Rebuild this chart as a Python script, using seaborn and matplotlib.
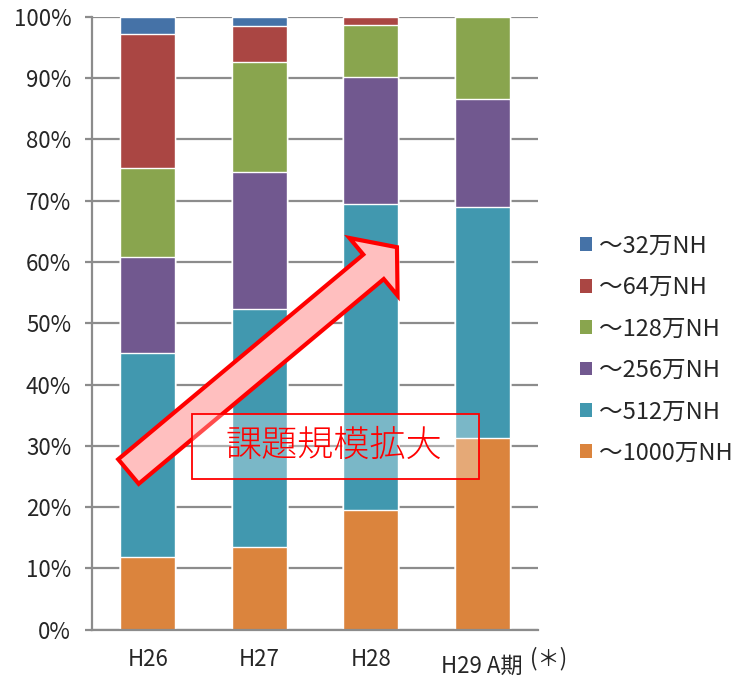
import matplotlib
matplotlib.use("Agg")
import matplotlib.pyplot as plt
from matplotlib.patches import Patch, Rectangle, FancyArrowPatch
from matplotlib.transforms import blended_transform_factory, ScaledTranslation
import numpy as np
import pandas as pd
import seaborn as sns

# Share of tasks per size class (%), per fiscal period
periods = ["H26", "H27", "H28", "H29 A期"]
size_classes = ["～1000万NH", "～512万NH", "～256万NH", "～128万NH", "～64万NH", "～32万NH"]
share_1000 = [11.8, 13.5, 19.6, 31.2]
share_512 = [33.3, 38.8, 49.9, 37.7]
share_256 = [15.7, 22.3, 20.7, 17.7]
share_128 = [14.6, 18.0, 8.4, 13.4]
share_64 = [21.7, 5.9, 1.4, 0.0]
share_32 = [2.9, 1.5, 0.0, 0.0]
class_colors = ["#DB843D", "#4198AF", "#71588F", "#89A54E", "#AA4643", "#4572A7"]
y_ticks = list(range(0, 101, 10))

sns.set_style("white")
plt.rcParams["font.family"] = ["Noto Sans CJK JP", "DejaVu Sans"]

fig = plt.figure(figsize=(7.51, 6.79), dpi=100)
ax = fig.add_axes([0.1225, 0.0726, 0.5939, 0.9028])

series = [share_1000, share_512, share_256, share_128, share_64, share_32]
cumulative = np.cumsum(np.array(series), axis=0)

# Stacked bars: draw cumulative totals from the top segment down
for level in range(len(series) - 1, -1, -1):
    df = pd.DataFrame({"period": periods, "value": cumulative[level]})
    sns.barplot(data=df, x="period", y="value", order=periods, color=class_colors[level],
                saturation=1, width=0.49, errorbar=None, ax=ax, zorder=2)

grid_c = "#8C8C8C"
ax.set_xlim(-0.5, 3.5)
ax.set_ylim(0, 100)
ax.set_yticks(y_ticks)
ax.set_yticklabels([f"{t}%" for t in y_ticks], fontsize=16)
ax.yaxis.grid(True, color=grid_c, linewidth=1.6, zorder=0)
ax.set_axisbelow(True)
ax.set_xlabel("")
ax.set_ylabel("")
for side in ["top", "right"]:
    ax.spines[side].set_visible(False)
for side in ["left", "bottom"]:
    ax.spines[side].set_color(grid_c)
    ax.spines[side].set_linewidth(1.6)

ax.set_xticks(range(len(periods)))
ax.set_xticklabels(periods, fontsize=16)
ax.set_xticks(np.arange(-0.5, 3.6, 1.0), minor=True)
ax.tick_params(axis="x", which="major", length=0, pad=13)
ax.tick_params(axis="x", which="minor", length=4.5, width=1.6, color=grid_c, direction="out")
ax.tick_params(axis="y", length=5, width=1.6, color=grid_c, direction="out", pad=10, left=True)

# The last period label sits a little lower
last = ax.get_xticklabels()[-1]
last.set_transform(last.get_transform() + ScaledTranslation(0, -0.07, fig.dpi_scale_trans))

# Footnote marker next to the last period label
trans = blended_transform_factory(ax.transData, ax.transAxes)
ax.text(3.43, -0.047, "(＊)", transform=trans, fontsize=16, ha="left", va="center",
        clip_on=False)

# Trend arrow
arrow = FancyArrowPatch((-0.173, 25.8), (2.235, 62.4),
                        arrowstyle="simple,head_length=22,head_width=54,tail_width=23",
                        mutation_scale=1, shrinkA=0, shrinkB=0,
                        facecolor="#FFBFBF", edgecolor="#FF0000", linewidth=3,
                        joinstyle="miter", zorder=5)
ax.add_patch(arrow)

# Caption box
ax.add_patch(Rectangle((0.224, 0.246), 0.644, 0.106, transform=ax.transAxes,
                       facecolor=(1, 1, 1, 0.3), edgecolor="#FF0000", linewidth=1.3,
                       zorder=6))
ax.text(0.543, 0.300, "課題規模拡大", transform=ax.transAxes, fontsize=26,
        color="#FF0000", ha="center", va="center", zorder=7, fontweight="light")

# Legend, largest-count class first
handles = [Patch(facecolor=class_colors[i], edgecolor="none", label=size_classes[i])
           for i in range(len(size_classes) - 1, -1, -1)]
fig.legend(handles=handles, loc="center left", bbox_to_anchor=(0.772, 0.485),
           frameon=False, fontsize=17, handlelength=0.52, handleheight=0.52,
           handletextpad=0.3, labelspacing=0.78, borderpad=0, borderaxespad=0)

fig.savefig("out.png", dpi=100)
